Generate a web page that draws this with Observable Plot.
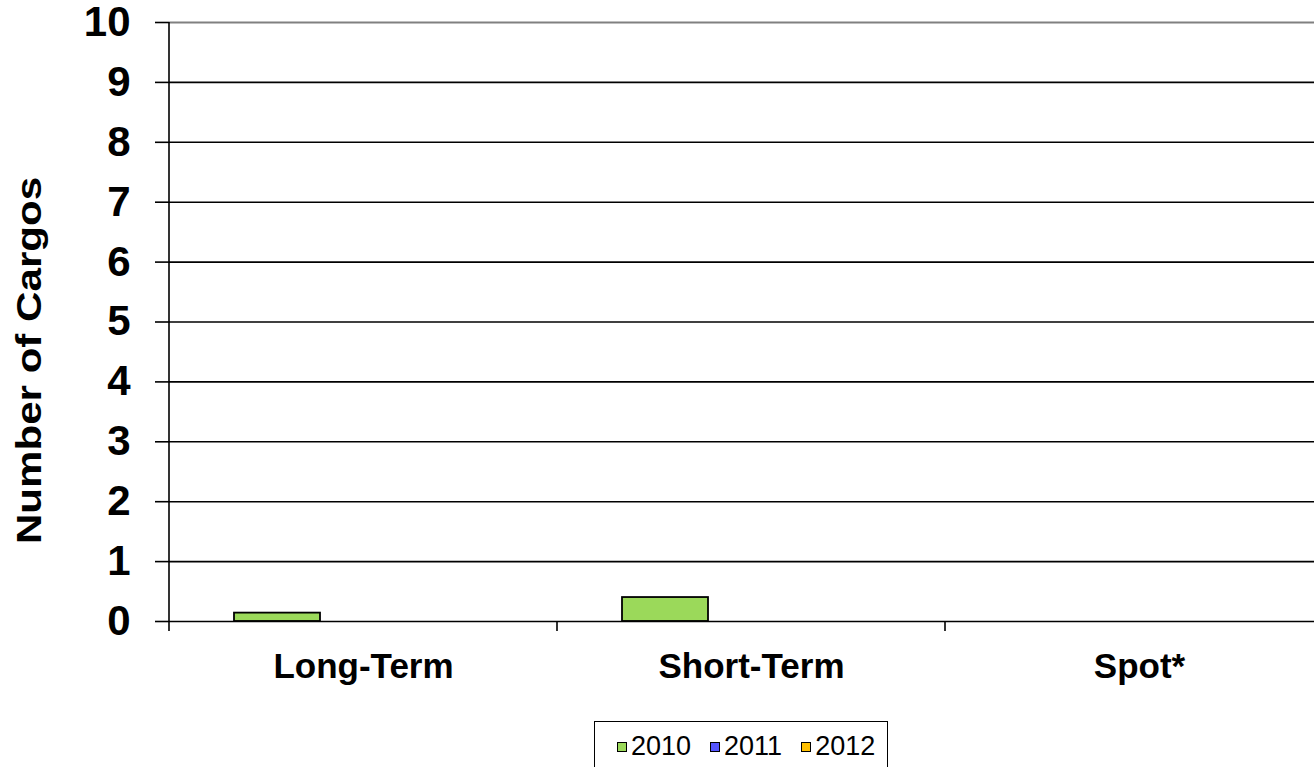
<!DOCTYPE html>
<html>
<head>
<meta charset="utf-8">
<script src="https://cdn.jsdelivr.net/npm/d3@7"></script>
<script src="https://cdn.jsdelivr.net/npm/@observablehq/plot@0.6"></script>
<style>
  html, body { margin: 0; padding: 0; background: #fff; overflow: hidden; }
  #wrap { position: relative; width: 1314px; height: 767px; overflow: hidden; font-family: "Liberation Sans", Arial, sans-serif; }
  #chart svg { max-width: none !important; }
  #legend { position: absolute; left: 594px; top: 721px; width: 294px; height: 60px; border: 1.5px solid #000; box-sizing: border-box;
            display: flex; align-items: flex-start; padding-top: 11px; padding-left: 22px; font-size: 27px; color: #000; }
  .item { display: flex; align-items: center; line-height: 1; margin-right: 19px; }
  .sw { width: 8px; height: 8px; border: 1.6px solid #000; display: inline-block; margin-right: 4px; }
</style>
</head>
<body>
<div id="wrap"><div id="chart"></div><div id="legend"></div></div>
<script>
const categories = ["Long-Term", "Short-Term", "Spot*"];
const years = ["2010", "2011", "2012"];
const colors = ["#9bd95a", "#5555ff", "#ffc000"];
const values2010 = [0.14, 0.4, 0];
const values2011 = [0, 0, 0];
const values2012 = [0, 0, 0];
const yTicks = [0, 1, 2, 3, 4, 5, 6, 7, 8, 9, 10];
const yTitle = "Number of Cargos";

const series = [values2010, values2011, values2012];
const rows = [];
categories.forEach((c, i) => years.forEach((y, j) => rows.push({category: c, year: y, value: series[j][i]})));

const chart = Plot.plot({
  width: 1333,
  height: 700,
  marginLeft: 169,
  marginRight: 0,
  marginTop: 22,
  marginBottom: 79,
  style: {fontFamily: "'Liberation Sans', Arial, sans-serif", color: "#000", background: "#fff", maxWidth: "none"},
  fx: {domain: categories, padding: 0, label: null},
  x: {domain: years, paddingInner: 0, paddingOuter: 0.75, axis: null},
  y: {domain: [0, 10], label: null},
  color: {domain: years, range: colors},
  marks: [
    Plot.gridY(yTicks.filter(t => t > 0 && t < 10), {stroke: "#000", strokeOpacity: 1, strokeWidth: 1.6}),
    Plot.gridY([10], {stroke: "#808080", strokeOpacity: 1, strokeWidth: 2}),
    Plot.barY(rows, {fx: "category", x: "year", y: "value", fill: "year", stroke: "#000", strokeWidth: 1.8, inset: 0}),
    Plot.ruleY([0], {stroke: "#000", strokeWidth: 1.6}),
    Plot.axisY({ticks: yTicks, tickSize: 14, tickPadding: 25, fontSize: 42, fontWeight: "bold", strokeWidth: 1.6, label: null}),
    Plot.axisFx({anchor: "bottom", tickSize: 0, tickPadding: 32, fontSize: 35, fontWeight: "bold", label: null})
  ]
});
chart.style.maxWidth = "none";
document.getElementById("chart").appendChild(chart);

// y-axis line and category boundary ticks (Excel style), from the plot's own scales
const fx = chart.scale("fx"), ys = chart.scale("y");
const svg = d3.select(chart);
const y0 = ys.apply(0), y10 = ys.apply(10);
categories.forEach((c, i) => {
  const x = fx.apply(c);
  svg.append("line").attr("x1", x).attr("x2", x)
    .attr("y1", i === 0 ? y10 : y0).attr("y2", y0 + 10)
    .attr("stroke", "#000").attr("stroke-width", 1.6);
});

// y-axis title
svg.append("text")
  .attr("transform", `translate(15, 360.5) rotate(-90) scale(1.17, 1)`)
  .attr("text-anchor", "middle")
  .attr("dy", "0.72em")
  .attr("font-size", 36)
  .attr("font-weight", "bold")
  .attr("fill", "#000")
  .text(yTitle);

const legend = d3.select("#legend");
years.forEach((y, i) => {
  const it = legend.append("div").attr("class", "item");
  it.append("span").attr("class", "sw").style("background", colors[i]);
  it.append("span").text(y);
});
</script>
</body>
</html>
